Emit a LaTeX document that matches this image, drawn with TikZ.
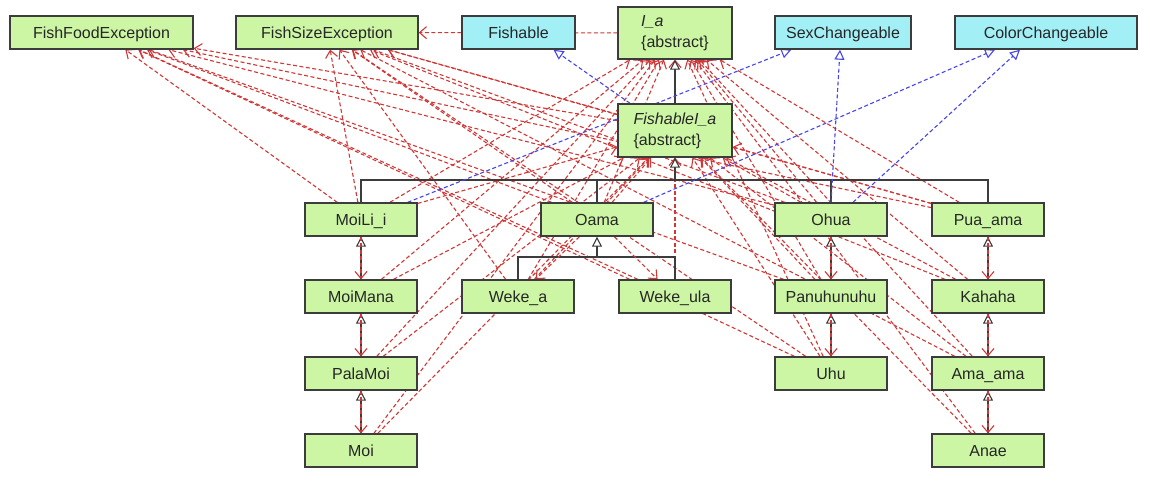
\documentclass[tikz,border=0pt]{standalone}
\usepackage{fontspec}
\setmainfont{Liberation Sans}
\usetikzlibrary{arrows.meta}
\definecolor{boxgreen}{RGB}{204,246,164}
\definecolor{boxcyan}{RGB}{162,240,246}
\definecolor{edgec}{RGB}{60,60,60}
\definecolor{depc}{RGB}{210,55,55}
\definecolor{realc}{RGB}{70,70,235}
\pgfdeclarelayer{bg}
\pgfsetlayers{bg,main}
\tikzset{
 clsbase/.style={draw=edgec, line width=1.4pt, fill=boxgreen, minimum height=33pt, minimum width=112pt, inner sep=0pt, font=\fontsize{16}{21}\selectfont, text=black!85},
 cls/.style={clsbase, text height=11.5pt, text depth=0pt},
 ifc/.style={cls, fill=boxcyan},
 depline/.style={draw=depc, line width=1.1pt, dash pattern=on 4pt off 2.5pt, -{Straight Barb[length=7pt,width=12pt]}},
 genline/.style={draw=edgec, line width=1.1pt, -{Triangle[length=10pt,width=10pt,fill=white]}},
 genplain/.style={draw=edgec, line width=1.1pt},
 realline/.style={draw=realc, line width=1.1pt, dash pattern=on 4pt off 2.5pt, -{Triangle[length=10pt,width=10pt,fill=white]}},
}
\begin{document}
\begin{tikzpicture}[x=1pt,y=-1pt]
\begin{pgfonlayer}{bg}
\fill[white] (0,0) rectangle (1150,480);
\end{pgfonlayer}
\useasboundingbox (0,0) rectangle (1150,480);
% top row
\node[cls, minimum width=183pt] (FFE) at (101.5,32.5) {FishFoodException};
\node[cls, minimum width=182pt] (FSE) at (327,32.5) {FishSizeException};
\node[ifc, minimum width=113pt] (Fishable) at (518.5,32.5) {Fishable};
\node[clsbase, minimum width=114pt, minimum height=52pt, align=left] (Ia) at (675,33) {\textit{I\_a}\\\{abstract\}};
\node[ifc, minimum width=136pt] (Sex) at (843,32.5) {SexChangeable};
\node[ifc, minimum width=182pt] (Color) at (1046,32.5) {ColorChangeable};
\node[clsbase, minimum width=114pt, minimum height=53pt, align=left] (FIa) at (675,130.5) {\textit{FishableI\_a}\\\{abstract\}};
% row 3
\node[cls] (MoiLii) at (361,219.5) {MoiLi\_i};
\node[cls] (Oama) at (597,219.5) {Oama};
\node[cls] (Ohua) at (831,219.5) {Ohua};
\node[cls] (PuaAma) at (988,219.5) {Pua\_ama};
% row 4
\node[cls] (MoiMana) at (361,296.5) {MoiMana};
\node[cls] (WekeA) at (518,296.5) {Weke\_a};
\node[cls] (WekeUla) at (675,296.5) {Weke\_ula};
\node[cls] (Panuhunuhu) at (831,296.5) {Panuhunuhu};
\node[cls] (Kahaha) at (988,296.5) {Kahaha};
% row 5
\node[cls] (PalaMoi) at (361,373.5) {PalaMoi};
\node[cls] (Uhu) at (831,373.5) {Uhu};
\node[cls] (AmaAma) at (988,373.5) {Ama\_ama};
% row 6
\node[cls] (Moi) at (361,450.5) {Moi};
\node[cls] (Anae) at (988,450.5) {Anae};

\coordinate (fbar) at (675,180);
\coordinate (obar) at (597,257);

\begin{pgfonlayer}{bg}
% dependencies to I_a and FishableI_a
\foreach \s in {MoiLii,MoiMana,PalaMoi,Moi,Oama,WekeA,WekeUla,Ohua,Panuhunuhu,Uhu,PuaAma,Kahaha,AmaAma,Anae}{
  \draw[depline] (\s) -- (Ia);
  \draw[depline] (\s) -- (FIa);
}
% dependencies to exceptions
\foreach \s in {MoiLii,Oama,WekeUla,Ohua,Uhu,PuaAma,FIa,Panuhunuhu}{
  \draw[depline] (\s) -- (FFE);
}
\foreach \s in {MoiLii,Oama,WekeA,Ohua,PuaAma,Kahaha,AmaAma,FIa,Uhu}{
  \draw[depline] (\s) -- (FSE);
}
\draw[depline] (Ia) -- (FSE);
% generalizations
\draw[genline] (FIa) -- (Ia);
\draw[genplain] (MoiLii.north) |- (PuaAma.north |- fbar) -- (PuaAma.north);
\draw[genplain] (Oama.north) -- (Oama.north |- fbar);
\draw[genplain] (Ohua.north) -- (Ohua.north |- fbar);
\draw[genline] (fbar) -- (FIa.south);
\draw[genplain] (WekeA.north) |- (WekeUla.north |- obar) -- (WekeUla.north);
\draw[genline] (obar) -- (Oama.south);
\draw[genline] (MoiMana) -- (MoiLii);
\draw[genline] (PalaMoi) -- (MoiMana);
\draw[genline] (Moi) -- (PalaMoi);
\draw[genline] (Panuhunuhu) -- (Ohua);
\draw[genline] (Uhu) -- (Panuhunuhu);
\draw[genline] (Kahaha) -- (PuaAma);
\draw[genline] (AmaAma) -- (Kahaha);
\draw[genline] (Anae) -- (AmaAma);
% chain dependencies (drawn over the generalization lines)
\draw[depline] (MoiLii) -- (MoiMana);
\draw[depline] (MoiMana) -- (PalaMoi);
\draw[depline] (PalaMoi) -- (Moi);
\draw[depline] (Oama) -- (WekeA);
\draw[depline] (Oama) -- (WekeUla);
\draw[depline] (Ohua) -- (Panuhunuhu);
\draw[depline] (Panuhunuhu) -- (Uhu);
\draw[depline] (PuaAma) -- (Kahaha);
\draw[depline] (Kahaha) -- (AmaAma);
\draw[depline] (AmaAma) -- (Anae);
% realizations
\draw[realline] ([xshift=-45pt]FIa.north) -- ([xshift=35pt]Fishable.south);
\draw[realline] ([xshift=-10pt]MoiLii.north east) -- ([xshift=17pt]Sex.south west);
\draw[realline] (Ohua.north) -- ([xshift=-3pt]Sex.south);
\draw[realline] ([xshift=-10pt]Oama.north east) -- ([xshift=-51pt]Color.south);
\draw[realline] ([xshift=22pt]Ohua.north) -- ([xshift=-26pt]Color.south);
\end{pgfonlayer}
\end{tikzpicture}
\end{document}
